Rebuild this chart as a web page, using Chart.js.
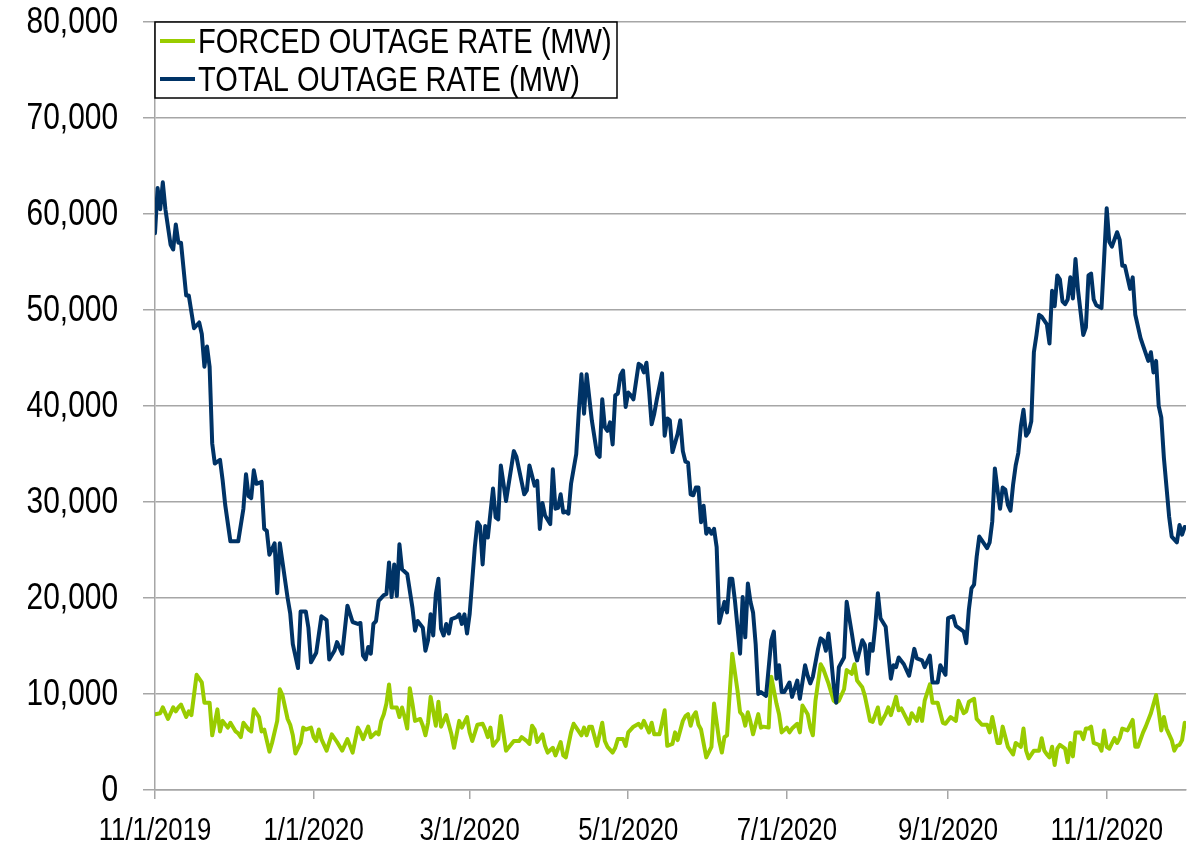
<!DOCTYPE html>
<html>
<head>
<meta charset="utf-8">
<title>Outage rate</title>
<script src="https://cdn.jsdelivr.net/npm/chart.js@4.4.1/dist/chart.umd.min.js"></script>
<style>
  html, body { margin: 0; padding: 0; background: #fff; }
  #wrap { width: 1191px; height: 842px; }
</style>
</head>
<body>
<div id="wrap"><canvas id="chart" width="1191" height="842"></canvas></div>
<script>
// ================= DATA ==================
// x values are days counted from 11/1/2019
const startDate = [2019, 10, 1];
const tickLabels = ["11/1/2019", "1/1/2020", "3/1/2020", "5/1/2020", "7/1/2020", "9/1/2020", "11/1/2020"];
const seriesNames = ["FORCED OUTAGE RATE (MW)", "TOTAL OUTAGE RATE (MW)"];

const totalDays = [0,1,2,3,4,6,7,8,9,10,12,13,15,17,18,19,20,21,22,23,25,26,27,29,32,34,35,36,37,38,39,41,42,43,44,46,47,48,49,51,52,53,55,56,58,59,60,62,64,66,67,69,70,72,74,76,78,79,80,81,82,83,84,85,86,88,89,90,91,92,93,94,95,97,99,100,101,103,104,105,106,107,108,109,110,111,112,113,114,116,117,118,119,120,121,123,124,125,126,127,128,130,131,132,133,135,138,139,142,143,144,146,147,148,149,150,152,153,154,155,156,157,158,159,160,162,163,164,165,166,168,170,171,172,173,174,175,176,177,178,179,180,181,182,183,184,186,187,188,189,190,191,192,193,195,196,197,198,199,201,202,203,204,205,206,207,208,209,210,211,212,213,214,215,216,217,219,220,221,222,223,225,226,227,228,229,230,231,232,233,235,237,238,239,240,241,242,244,245,247,248,250,251,252,253,255,256,257,258,259,260,261,262,263,265,266,268,269,270,272,273,274,275,276,277,278,279,281,282,283,284,285,286,288,290,292,293,295,296,298,299,301,302,304,305,307,308,310,311,312,313,314,315,316,317,318,320,321,322,323,324,325,326,327,328,329,330,331,332,333,334,335,336,337,338,339,340,341,343,344,345,346,347,348,349,350,351,352,353,354,355,357,358,359,360,361,362,364,365,366,367,368,370,371,372,373,375,376,377,379,380,382,383,384,385,386,387,388,390,391,393,394,395,396];
const totalMW = [58000,62700,60500,63300,60500,56800,56300,58900,57000,57000,51500,51500,48100,48700,47500,44100,46200,44100,36100,34000,34400,32300,29700,25900,25900,29300,32900,30600,30400,33300,31900,32100,27200,27000,24500,25700,20500,25700,23800,20000,18400,15200,12700,18600,18600,16900,13300,14300,18100,17700,13600,14500,15400,14200,19200,17500,17300,17400,14000,13600,14900,14200,17300,17600,19700,20300,20400,23700,20100,23500,20200,25600,23000,22500,19000,16600,17600,16900,14500,15600,18300,16100,20400,22000,16800,16100,17300,16300,17800,18000,18300,17300,18300,16300,18300,25300,27900,27500,23500,27500,26300,31400,28400,28200,33800,30100,35300,34700,30800,31200,33800,31700,32200,27200,29900,28600,27700,33400,29300,29400,30800,28900,29000,28800,31900,35000,39500,43300,39200,43300,38500,35000,34700,40700,37800,37400,38300,36000,41100,41300,43200,43700,39900,41400,41100,40700,44400,44200,43500,44500,41600,38100,39200,40700,43400,36900,38700,38500,35200,37100,38500,35300,34200,34100,30800,30700,31500,31500,27900,29600,26700,27200,26700,27200,25300,17400,19600,18500,22000,22000,19800,14200,20100,15900,21500,19600,18500,15200,10000,10200,9800,15600,16500,11600,13000,10200,10200,11200,9700,11400,9500,13000,11900,11100,11800,14700,15800,15600,14500,16300,13800,10900,9100,12800,13800,19600,16300,14500,13500,15600,15100,12100,15200,14500,17100,20500,17900,17000,14200,11600,13000,12800,13800,13100,11900,14700,13700,13500,12800,14000,11200,11200,13000,12000,17900,18100,17100,16700,16500,15300,18800,21000,21400,24300,26400,26000,25200,25800,28000,33500,31300,29300,31500,31300,29700,29100,31800,33800,35100,37900,39600,36900,37300,38400,45600,47400,49500,49300,48500,46500,52000,50400,53600,53200,50900,50600,51100,53400,51200,55300,52000,47400,48200,53600,53800,51100,50500,50200,55300,60600,57100,56600,58100,57300,54600,54600,52200,53400,49500,47100,46300,44700,45600,43500,44700,40000,38800,34600,28500,26400,25800,27600,26600,27400];

const forcedDays = [0,2,3,5,7,8,9,10,12,13,14,16,18,19,21,22,23,24,25,26,28,29,31,32,33,34,36,37,38,40,41,42,44,45,47,48,49,51,52,53,54,56,57,58,60,61,62,63,64,66,68,70,72,74,76,78,79,80,82,83,85,86,87,88,89,90,91,93,94,95,96,97,98,99,100,102,103,104,105,106,108,109,110,112,114,115,117,118,120,121,122,124,126,127,128,129,130,132,133,135,138,140,141,143,144,145,146,147,149,150,151,153,154,156,157,158,160,161,162,164,165,166,167,168,170,172,173,174,176,177,178,180,181,182,184,186,187,188,190,191,192,194,195,196,197,199,200,201,203,204,205,206,207,208,209,210,212,214,215,217,218,219,220,221,222,224,225,226,227,228,229,230,232,233,234,236,237,239,240,241,243,244,245,247,248,249,251,252,253,254,256,257,259,261,262,263,265,266,268,269,270,272,273,275,276,278,279,281,282,283,285,286,287,290,291,293,294,295,296,298,299,301,303,304,306,308,309,311,312,313,315,316,318,320,321,322,324,325,326,328,330,331,333,334,335,336,338,340,341,342,343,344,345,346,347,348,350,351,352,353,354,356,357,358,359,360,361,363,364,365,366,367,369,370,371,372,374,376,377,378,380,381,383,385,386,387,388,389,391,392,393,394,395,396];
const forcedMW = [7900,8000,8600,7400,8600,8200,8600,8900,7600,8200,7800,12000,11200,9100,9100,5700,7000,8400,6100,7200,6500,7000,6100,5900,5500,7000,6300,6100,8400,7600,6100,6300,4000,4900,7200,10500,9900,7400,6800,5700,3800,4900,6500,6300,6500,5500,5100,6300,5300,4100,5800,5000,4100,5300,3900,6500,6000,5300,6600,5500,6000,5800,7200,7900,9000,11000,8600,8600,7600,8600,7600,6400,10600,9000,7200,7400,6700,5700,7000,9700,6700,9200,6600,7800,5800,4400,7200,6500,7600,6000,5100,6800,6900,6300,5500,6500,4600,5300,7700,4100,5100,5100,5500,5100,4800,6700,6300,5000,5800,4600,3900,4400,3600,5000,3600,3400,6000,6900,6500,5700,6500,5700,6600,6600,4600,7000,5100,4500,3900,4400,5300,5300,4600,6000,6600,6900,6500,7200,6000,7000,5800,5800,7000,8300,4600,4800,6000,5200,7200,7700,7900,6700,7700,8100,6800,6300,3400,4500,9000,5100,3900,5500,5700,10000,14200,10400,8100,7800,6700,8100,7100,5800,7900,6500,6600,6500,11800,9000,7900,6000,6500,6000,6400,6900,6000,8800,7900,6500,5700,9300,13100,12600,11100,9300,9100,9300,10500,12500,12100,13100,11400,10700,9800,7200,7100,8600,6900,7900,8600,7800,9700,8300,8500,6900,8000,7200,8500,7200,9300,11000,9100,9100,7000,6900,7600,7200,9300,8000,8200,9200,9500,7400,6800,6800,6000,7600,4900,4900,6600,4500,3700,4900,4500,6400,4100,3300,4100,4100,5400,4100,3700,3400,4500,2600,4300,4700,4300,2900,4900,3500,6000,6000,5300,6400,6400,6600,4900,4700,4100,6200,4500,4300,5400,4900,5400,6400,6200,7300,4500,4500,6000,6600,8000,9900,8200,6200,7600,6400,5200,4100,4600,4700,5200,7000];

const yMin = 0, yMax = 80000, yStep = 10000;

// ================= HELPERS ==================
function dayOf(label){
  const p = label.split("/").map(Number);
  const t0 = Date.UTC(startDate[0], startDate[1], startDate[2]);
  return Math.round((Date.UTC(p[2], p[0]-1, p[1]) - t0) / 86400000);
}
const tickDays = tickLabels.map(dayOf);

function pairs(xs, ys){
  return xs.map((x,i)=>({x:x, y:ys[i]}));
}

const FONT = "'Liberation Sans Narrow', 'Arial Narrow', 'Liberation Sans', Arial, sans-serif";
const GRID = "#a6a6a6";
const SQUEEZE = 0.83;   // no narrow face installed, so squeeze the regular one

function narrowText(ctx, text, x, y){
  ctx.save();
  ctx.translate(x, y);
  ctx.scale(SQUEEZE, 1);
  ctx.fillText(text, 0, 0);
  ctx.restore();
}

// axis labels in a condensed look
const narrowLabels = {
  id: "narrowLabels",
  afterDraw(chart, args, o){
    const ctx = chart.ctx, xs = chart.scales.x, ys = chart.scales.y;
    ctx.save();
    ctx.fillStyle = "#000";
    ctx.font = o.ySize + "px " + FONT;
    ctx.textAlign = "right";
    ctx.textBaseline = "middle";
    ys.ticks.forEach(t=>{
      narrowText(ctx, t.value.toLocaleString("en-US"), ys.right - o.yGap, ys.getPixelForValue(t.value) + 1);
    });
    ctx.font = o.xSize + "px " + FONT;
    ctx.textAlign = "center";
    ctx.textBaseline = "alphabetic";
    xs.ticks.forEach(t=>{
      narrowText(ctx, tickLabels[tickDays.indexOf(t.value)], xs.getPixelForValue(t.value), xs.top + o.xBase);
    });
    ctx.restore();
  }
};

// legend drawn inside the plot, top-left, as in the original
const insideLegend = {
  id: "insideLegend",
  afterDatasetsDraw(chart, args, opts){
    const ctx = chart.ctx, a = chart.chartArea;
    ctx.save();
    ctx.fillStyle = "#fff";
    ctx.fillRect(a.left, a.top, opts.width, opts.height);
    ctx.strokeStyle = "#000";
    ctx.lineWidth = 1.5;
    ctx.strokeRect(a.left, a.top, opts.width, opts.height);
    ctx.font = opts.fontSize + "px " + FONT;
    ctx.textBaseline = "alphabetic";
    ctx.textAlign = "left";
    ctx.fillStyle = "#000";
    chart.data.datasets.forEach((ds,i)=>{
      const y = a.top + opts.rowTop + i*opts.rowGap;
      ctx.strokeStyle = ds.borderColor;
      ctx.lineWidth = 4;
      ctx.beginPath();
      ctx.moveTo(a.left + 5, y);
      ctx.lineTo(a.left + 40, y);
      ctx.stroke();
      narrowText(ctx, ds.label, a.left + 43, y + 12);
    });
    ctx.restore();
  }
};

// ================= CHART ==================
const chart = new Chart(document.getElementById("chart"), {
  type: "line",
  data: {
    datasets: [
      {
        label: seriesNames[0],
        data: pairs(forcedDays, forcedMW),
        borderColor: "#99cc00",
        borderWidth: 4,
        order: 1
      },
      {
        label: seriesNames[1],
        data: pairs(totalDays, totalMW),
        borderColor: "#003366",
        borderWidth: 4,
        order: 0
      }
    ]
  },
  options: {
    responsive: false,
    animation: false,
    devicePixelRatio: 1,
    layout: { padding: { top: 22, right: 5, bottom: 0, left: 0 } },
    elements: {
      point: { radius: 0 },
      line: { tension: 0, borderJoinStyle: "round", borderCapStyle: "round" }
    },
    plugins: {
      legend: { display: false },
      tooltip: { enabled: false },
      insideLegend: { width: 462, height: 76, rowTop: 19, rowGap: 38, fontSize: 35 },
      narrowLabels: { ySize: 36, yGap: 37, xSize: 31, xBase: 50 }
    },
    scales: {
      x: {
        type: "linear",
        min: 0,
        max: 396.5,
        afterBuildTicks: s => { s.ticks = tickDays.map(v=>({value:v})); },
        afterFit: s => { s.height = 52; },
        grid: { drawOnChartArea: false, drawTicks: true, tickLength: 9, color: GRID, lineWidth: 1.5 },
        border: { display: true, color: GRID, width: 1.5 },
        ticks: { display: false, autoSkip: false }
      },
      y: {
        min: yMin,
        max: yMax,
        afterFit: s => { s.width = 155; },
        grid: { color: GRID, lineWidth: 1.5, tickLength: 12 },
        border: { display: true, color: GRID, width: 1.5 },
        ticks: { display: false, stepSize: yStep }
      }
    }
  },
  plugins: [insideLegend, narrowLabels]
});
</script>
</body>
</html>
